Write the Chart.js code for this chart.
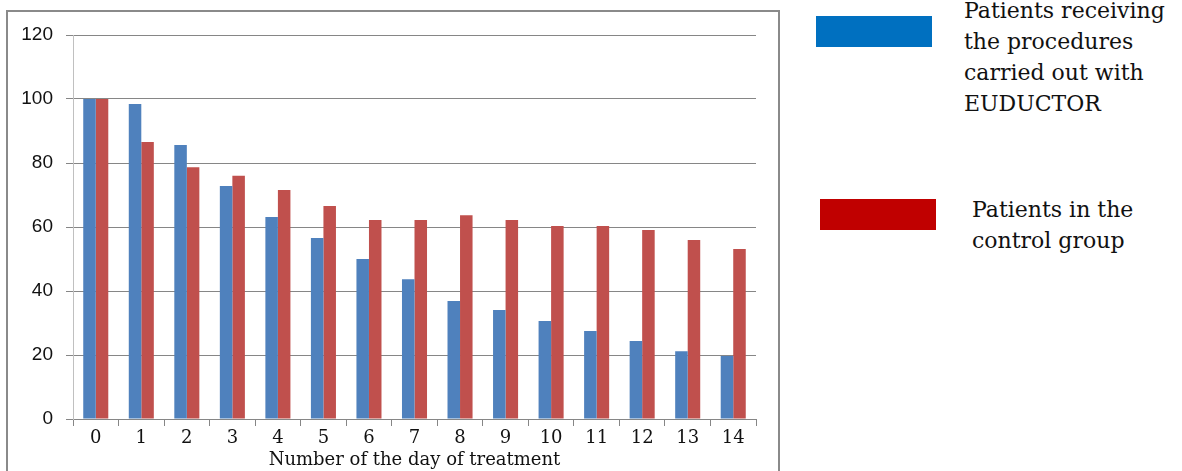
<!DOCTYPE html>
<html>
<head>
<meta charset="utf-8">
<script src="https://cdn.jsdelivr.net/npm/chart.js@4"></script>
<style>
  html, body { margin: 0; padding: 0; background: #fff; }
  body { width: 1182px; height: 471px; position: relative; overflow: hidden; }
  #frame {
    position: absolute; left: 6px; top: 10px; width: 774px; height: 480px;
    border: 2px solid #8a8a8a; box-sizing: border-box;
  }
  #wrap { position: absolute; left: 0; top: 0; width: 780px; height: 471px; }
  .key { position: absolute; width: 116px; height: 31px; }
  .label {
    position: absolute; font-family: "DejaVu Serif", serif; font-size: 22px;
    line-height: 31px; color: #111;
  }
</style>
</head>
<body>
<div id="frame"></div>
<div id="wrap"><canvas id="daysChart"></canvas></div>

<div class="key" style="left:816px; top:16px; background:#0070C0"></div>
<div class="label" style="left:964px; top:-5px">Patients receiving<br>the procedures<br>carried out with<br>EUDUCTOR</div>

<div class="key" style="left:820px; top:199px; background:#C00000"></div>
<div class="label" style="left:972px; top:194px">Patients in the<br>control group</div>

<script>
/* =========================
   Share of patients by day of treatment
========================= */

const days = ['0', '1', '2', '3', '4', '5', '6', '7', '8', '9', '10', '11', '12', '13', '14'];
const euductor = [100, 98.4, 85.6, 72.8, 63.1, 56.6, 50, 43.7, 36.9, 34.1, 30.6, 27.5, 24.4, 21.2, 19.7];
const control = [100, 86.6, 78.7, 76, 71.6, 66.6, 62.2, 62.2, 63.7, 62.2, 60.3, 60.3, 59.1, 55.9, 53.1];
const yTicks = [0, 20, 40, 60, 80, 100, 120];

const gridGray = '#868686';

new Chart(document.getElementById('daysChart'), {
  type: 'bar',
  data: {
    labels: days,
    datasets: [
      { label: 'EUDUCTOR', data: euductor, backgroundColor: '#4F81BD' },
      { label: 'Control', data: control, backgroundColor: '#C0504D' }
    ]
  },
  options: {
    responsive: true,
    maintainAspectRatio: false,
    animation: false,
    devicePixelRatio: 1,
    layout: { padding: { top: 35, right: 24, left: 0, bottom: 0 } },
    datasets: { bar: { categoryPercentage: 0.55, barPercentage: 1 } },
    plugins: { legend: { display: false }, tooltip: { enabled: false } },
    scales: {
      x: {
        afterFit: s => { s.height = 52; },
        grid: { drawOnChartArea: false, drawTicks: true, tickLength: 7, color: gridGray, offset: true },
        border: { color: gridGray },
        ticks: { color: '#111', padding: 2, font: { family: 'DejaVu Serif', size: 18 } },
        title: {
          display: true,
          text: 'Number of the day of treatment',
          color: '#111',
          padding: 0,
          font: { family: 'DejaVu Serif', size: 18 }
        }
      },
      y: {
        min: 0,
        max: 120,
        afterFit: s => { s.width = 73; },
        afterBuildTicks: s => { s.ticks = yTicks.map(v => ({ value: v })); },
        grid: { color: gridGray, tickLength: 7 },
        border: { color: '#c0c0c0' },
        ticks: { color: '#111', padding: 13, font: { family: 'Liberation Sans', size: 19 } }
      }
    }
  }
});
</script>
</body>
</html>
